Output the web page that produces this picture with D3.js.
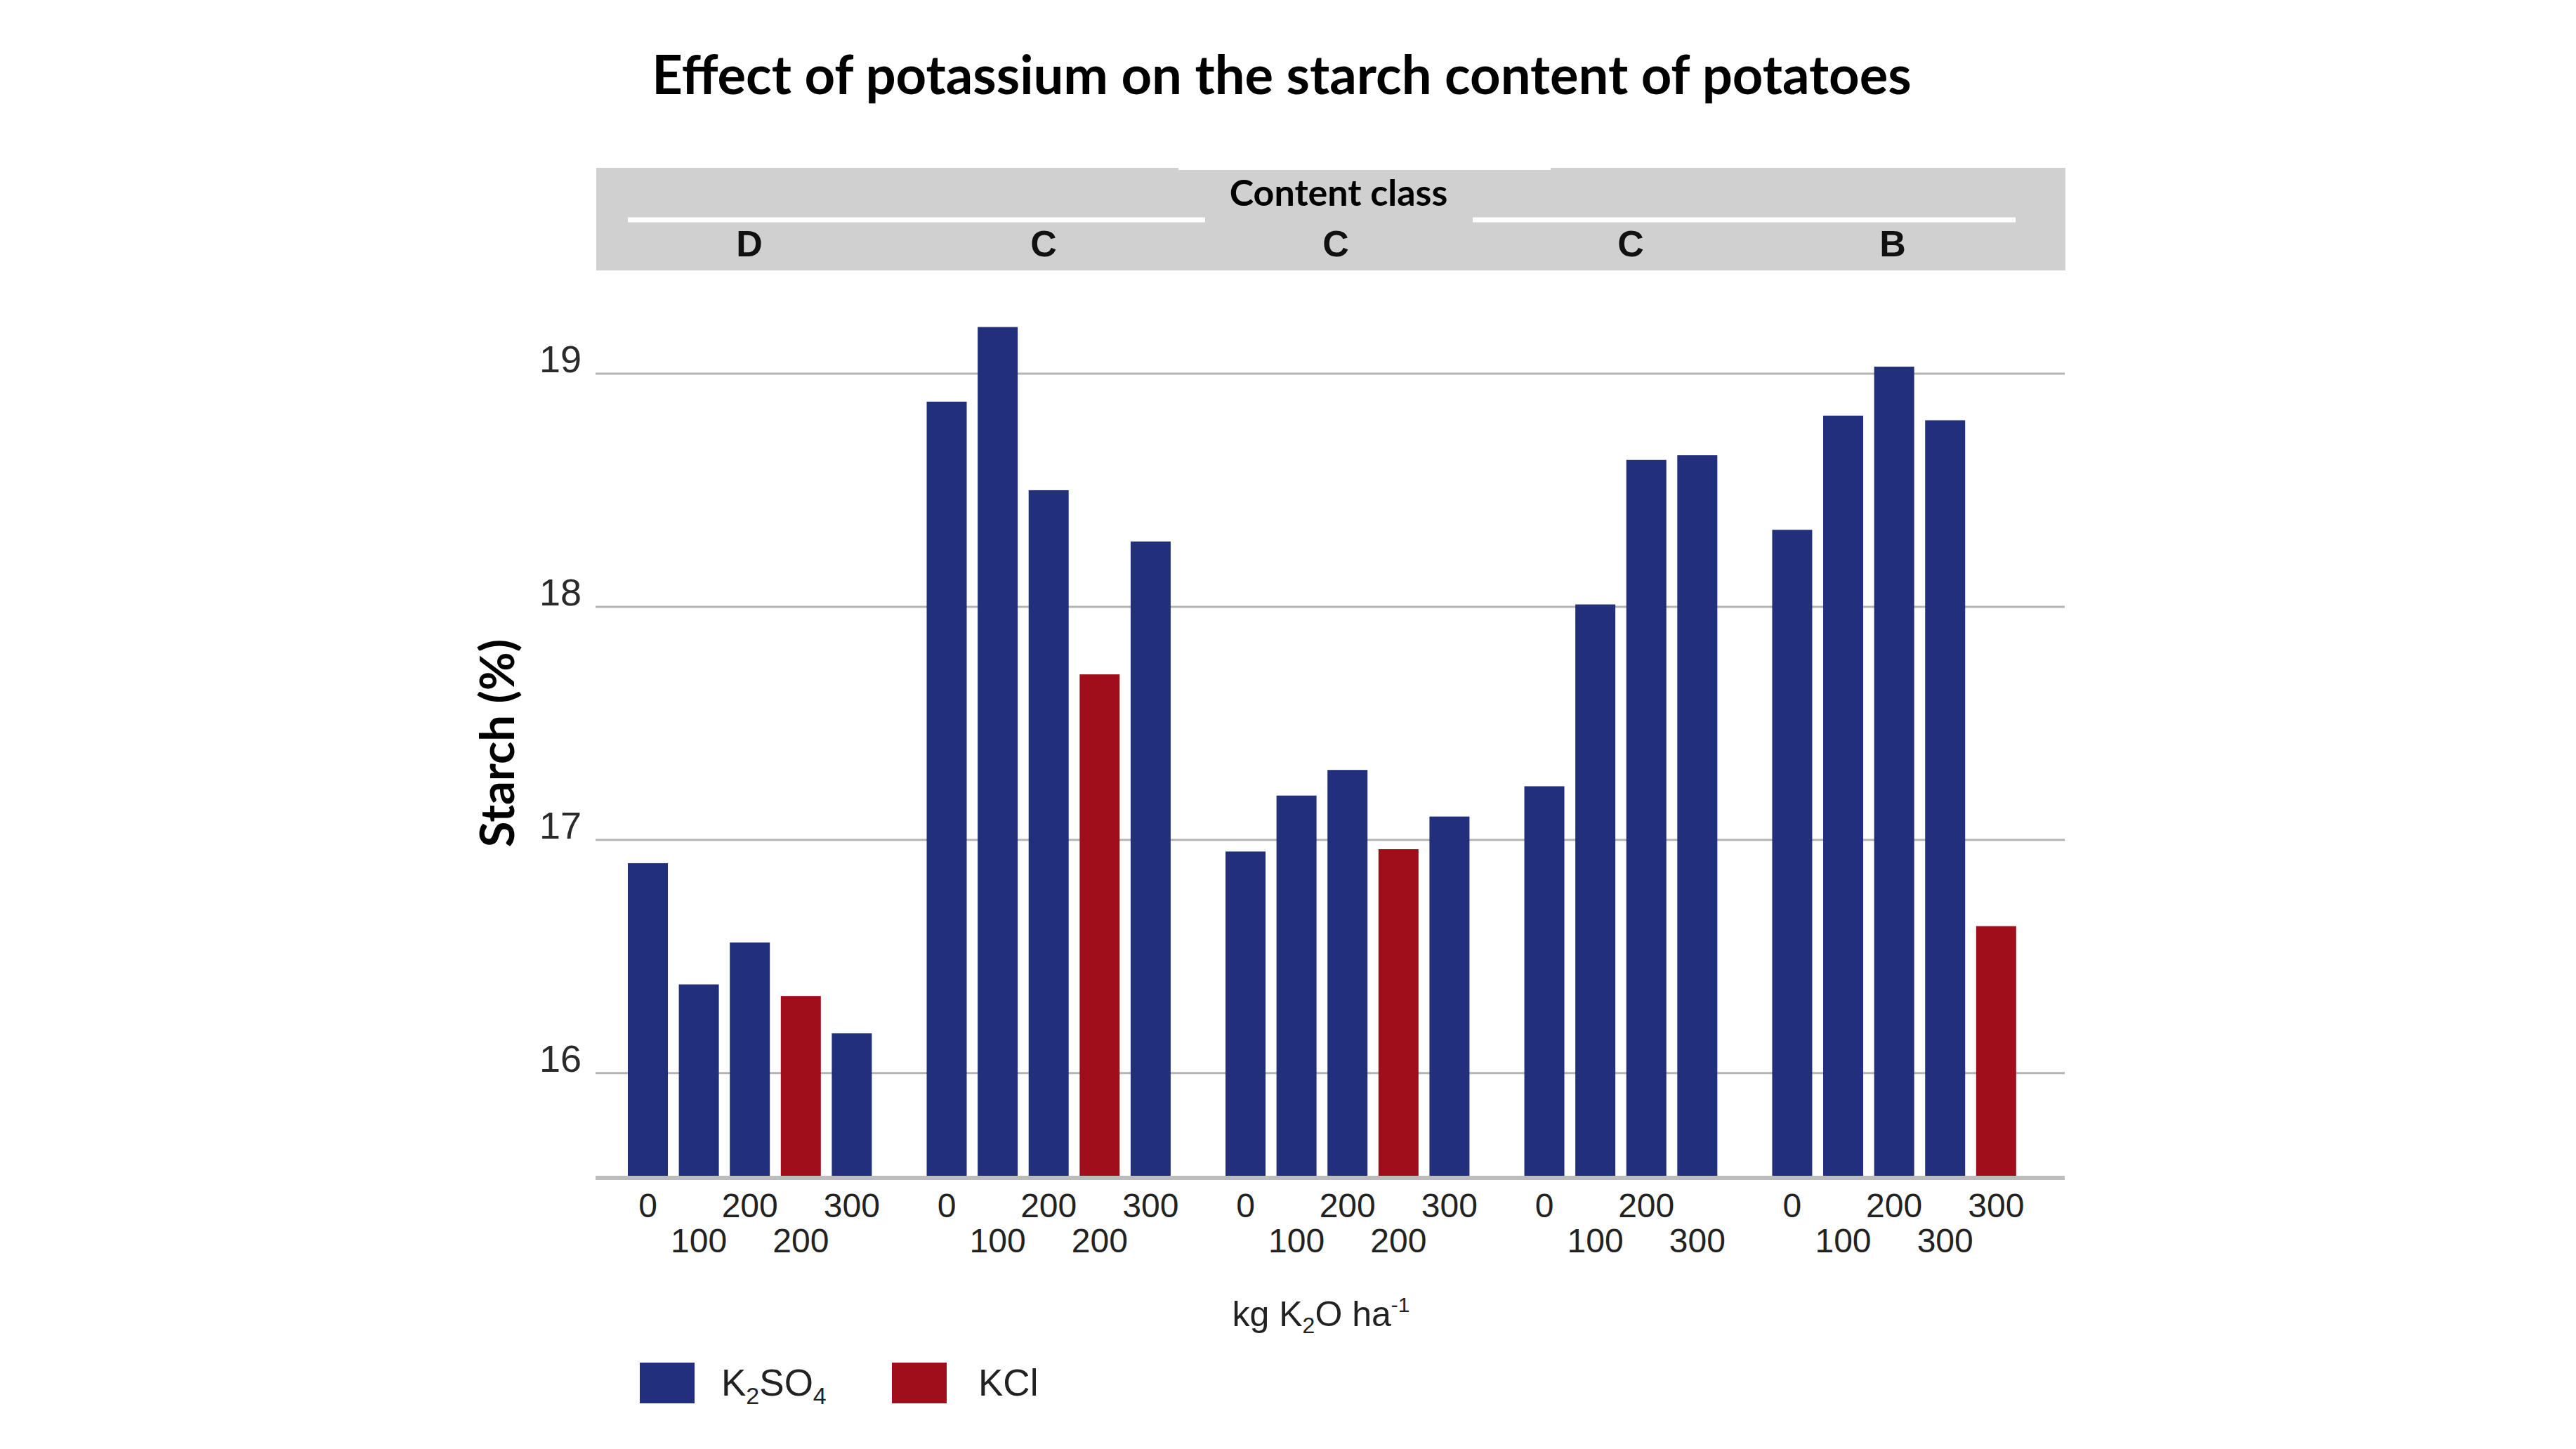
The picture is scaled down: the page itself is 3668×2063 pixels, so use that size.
<!DOCTYPE html>
<html>
<head>
<meta charset="utf-8">
<script src="https://cdn.jsdelivr.net/npm/d3@7"></script>
<style>
  html, body { margin: 0; padding: 0; background: #fff; }
  svg { display: block; }
</style>
</head>
<body>
<svg id="chart" width="3668" height="2063"></svg>
<script>
// ---------------- DATA ----------------
const contentClasses = ["D", "C", "C", "C", "B"];
const groupOfBar = [0,0,0,0,0, 1,1,1,1,1, 2,2,2,2,2, 3,3,3,3, 4,4,4,4,4];
const doseLabels = ["0","100","200","200","300", "0","100","200","200","300",
                    "0","100","200","200","300", "0","100","200","300",
                    "0","100","200","300","300"];
const fertilizer = ["K2SO4","K2SO4","K2SO4","KCl","K2SO4",
                    "K2SO4","K2SO4","K2SO4","KCl","K2SO4",
                    "K2SO4","K2SO4","K2SO4","KCl","K2SO4",
                    "K2SO4","K2SO4","K2SO4","K2SO4",
                    "K2SO4","K2SO4","K2SO4","K2SO4","KCl"];
const starch = [16.90, 16.38, 16.56, 16.33, 16.17,
                18.88, 19.20, 18.50, 17.71, 18.28,
                16.95, 17.19, 17.30, 16.96, 17.10,
                17.23, 18.01, 18.63, 18.65,
                18.33, 18.82, 19.03, 18.80, 16.63];
const yTicks = [16, 17, 18, 19];
const seriesNames = ["K2SO4", "KCl"];

// ---------------- LAYOUT ----------------
const svg = d3.select("#chart");
const plotLeft = 848, plotRight = 2940;
const barStart = 894, slot = 72.6, groupGap = 0.861, barFrac = 0.785;
const classLabelX = [1067, 1486, 1902, 2322, 2695];
const color = d3.scaleOrdinal().domain(seriesNames).range(["#22307b", "#a00d1b"]);
const font = "'Liberation Sans', Arial, sans-serif";
const headFont = "Lato, 'Noto Sans', sans-serif";

const nSlots = starch.length - 1 + (contentClasses.length - 1) * groupGap;
const x = d3.scaleLinear().domain([0, nSlots]).range([barStart, barStart + nSlots * slot]);
const slotPos = starch.map((d, i) => i + groupOfBar[i] * groupGap);
const bw = slot * barFrac;

const y = d3.scaleLinear().domain([15.55, 19]).range([1677, 532]);

// Title
svg.append("text").attr("x", 1825).attr("y", 134)
  .attr("text-anchor", "middle").attr("font-family", headFont)
  .attr("font-weight", 700).attr("font-size", 76).attr("fill", "#000")
  .text("Effect of potassium on the starch content of potatoes");

// Header band
svg.append("rect").attr("x", 849).attr("y", 239).attr("width", 2092).attr("height", 146)
  .attr("fill", "#d0d0d0");
svg.append("rect").attr("x", 1678).attr("y", 236).attr("width", 530).attr("height", 6)
  .attr("fill", "#fff");
svg.append("text").attr("x", 1906).attr("y", 293)
  .attr("text-anchor", "middle").attr("font-family", headFont)
  .attr("font-weight", 700).attr("font-size", 52).attr("fill", "#000")
  .text("Content class");
svg.append("line").attr("x1", 894).attr("x2", 1716).attr("y1", 313).attr("y2", 313)
  .attr("stroke", "#fff").attr("stroke-width", 7);
svg.append("line").attr("x1", 2097).attr("x2", 2870).attr("y1", 313).attr("y2", 313)
  .attr("stroke", "#fff").attr("stroke-width", 7);

svg.append("g").selectAll("text").data(contentClasses).join("text")
  .attr("x", (d, i) => classLabelX[i]).attr("y", 365)
  .attr("text-anchor", "middle").attr("font-family", font).attr("font-weight", 700)
  .attr("font-size", 52).attr("fill", "#111").text(d => d);

// Gridlines + y ticks
const grid = svg.append("g");
grid.selectAll("line").data(yTicks).join("line")
  .attr("x1", plotLeft).attr("x2", plotRight)
  .attr("y1", d => y(d)).attr("y2", d => y(d))
  .attr("stroke", "#b4b4b4").attr("stroke-width", 3);
grid.selectAll("text").data(yTicks).join("text")
  .attr("x", 828).attr("y", d => y(d) - 2).attr("text-anchor", "end")
  .attr("font-family", font).attr("font-size", 54).attr("fill", "#2a2a2a")
  .text(d => d);

// Bars
svg.append("g").selectAll("rect").data(starch).join("rect")
  .attr("x", (d, i) => x(slotPos[i])).attr("width", bw)
  .attr("y", d => y(d)).attr("height", d => y.range()[0] - y(d))
  .attr("fill", (d, i) => color(fertilizer[i]));

// Baseline
svg.append("line").attr("x1", plotLeft).attr("x2", plotRight)
  .attr("y1", y.range()[0]).attr("y2", y.range()[0])
  .attr("stroke", "#bcbcbc").attr("stroke-width", 6);

// X tick labels (two staggered rows)
svg.append("g").selectAll("text").data(doseLabels).join("text")
  .attr("x", (d, i) => x(slotPos[i]) + bw / 2)
  .attr("y", (d, i) => {
    const first = groupOfBar.indexOf(groupOfBar[i]);
    return (i - first) % 2 === 0 ? 1733 : 1783;
  })
  .attr("text-anchor", "middle").attr("font-family", font)
  .attr("font-size", 48).attr("fill", "#222").text(d => d);

// X axis title
const xt = svg.append("text").attr("x", 1881).attr("y", 1888).attr("text-anchor", "middle")
  .attr("font-family", font).attr("font-size", 50).attr("fill", "#222");
xt.append("tspan").text("kg K");
xt.append("tspan").attr("font-size", 32).attr("dy", 10).text("2");
xt.append("tspan").attr("dy", -10).text("O ha");
xt.append("tspan").attr("font-size", 30).attr("dy", -20).text("-1");

// Y axis title
svg.append("text").attr("transform", "translate(732,1058) rotate(-90)")
  .attr("text-anchor", "middle").attr("font-family", headFont)
  .attr("font-weight", 700).attr("font-size", 67).attr("fill", "#000")
  .text("Starch (%)");

// Legend
const legend = svg.append("g");
const legX = [911, 1270];
legend.selectAll("rect").data(seriesNames).join("rect")
  .attr("x", (d, i) => legX[i]).attr("y", 1940).attr("width", 78).attr("height", 58)
  .attr("fill", d => color(d));
const l1 = legend.append("text").attr("x", 1027).attr("y", 1987)
  .attr("font-family", font).attr("font-size", 53).attr("fill", "#222");
l1.append("tspan").text("K");
l1.append("tspan").attr("font-size", 34).attr("dy", 12).text("2");
l1.append("tspan").attr("dy", -12).text("SO");
l1.append("tspan").attr("font-size", 34).attr("dy", 12).text("4");
legend.append("text").attr("x", 1393).attr("y", 1987)
  .attr("font-family", font).attr("font-size", 53).attr("fill", "#222").text("KCl");
</script>
</body>
</html>
